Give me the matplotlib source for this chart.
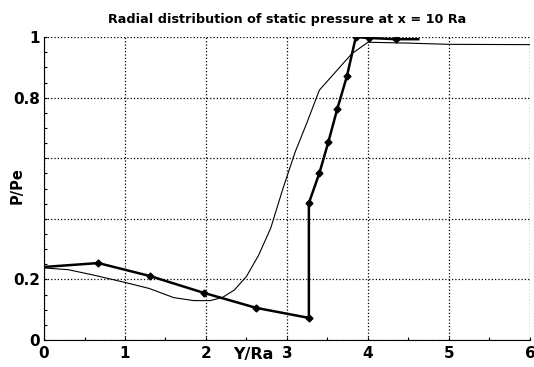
import matplotlib.pyplot as plt
from matplotlib.ticker import FixedLocator, FixedFormatter, MultipleLocator

plt.rcParams['font.family'] = ['DejaVu Sans']

# measured profile (thick line, diamond markers)
y_meas = [0.0, 0.67, 1.31, 1.98, 2.62, 3.27, 3.27, 3.40, 3.51, 3.62, 3.74, 3.85, 4.01, 4.35, 4.62]
p_meas = [0.241, 0.254, 0.211, 0.155, 0.106, 0.073, 0.452, 0.551, 0.653, 0.762, 0.871, 1.0, 0.997, 0.993, 0.993]
marker_idx = list(range(1, 14))

# computed profile (thin line)
y_calc = [0.0, 0.3, 0.6, 1.0, 1.3, 1.6, 1.85, 2.05, 2.2, 2.35, 2.5, 2.65, 2.8, 2.95,
          3.1, 3.25, 3.4, 3.6, 3.8, 4.0, 4.5, 5.0, 6.0]
p_calc = [0.238, 0.232, 0.215, 0.19, 0.17, 0.14, 0.13, 0.13, 0.14, 0.165, 0.21, 0.28,
          0.37, 0.5, 0.62, 0.72, 0.825, 0.885, 0.945, 0.983, 0.98, 0.976, 0.975]

y_ticks = [0, 0.2, 0.4, 0.6, 0.8, 1]
y_tick_labels = ['0', '0.2', '', '', '0.8', '1']
x_ticks = [0, 1, 2, 3, 4, 5, 6]

fig = plt.figure(figsize=(5.34, 3.67), dpi=100)
ax = fig.add_axes([0.0824, 0.0736, 0.9101, 0.8254])

ax.plot(y_calc, p_calc, color='black', lw=0.8)
ax.plot(y_meas, p_meas, color='black', lw=1.8, marker='D', ms=3.5,
        markevery=marker_idx)

ax.set_xlim(0, 6)
ax.set_ylim(0, 1)
ax.xaxis.set_major_locator(FixedLocator(x_ticks))
ax.xaxis.set_minor_locator(MultipleLocator(0.5))
ax.yaxis.set_major_locator(FixedLocator(y_ticks))
ax.yaxis.set_major_formatter(FixedFormatter(y_tick_labels))
ax.yaxis.set_minor_locator(MultipleLocator(0.05))
ax.tick_params(which='both', direction='in', length=2.5, width=0.8)
ax.tick_params(which='major', labelsize=11)
ax.tick_params(axis='x', which='major', pad=4)
ax.tick_params(axis='y', which='major', pad=3)
for lab in ax.get_xticklabels() + ax.get_yticklabels():
    lab.set_fontweight('bold')

ax.grid(True, which='major', linestyle=':', color='black', lw=0.9)
ax.spines['top'].set_visible(False)
ax.spines['right'].set_visible(False)

ax.set_title('Radial distribution of static pressure at x = 10 Ra',
             fontsize=9.2, fontweight='bold', pad=10)
ax.set_xlabel('Y/Ra', fontsize=11.5, fontweight='bold')
ax.xaxis.set_label_coords(0.43, -0.022)
ax.set_ylabel('P/Pe', fontsize=10.5, fontweight='bold')
ax.yaxis.set_label_coords(-0.04, 0.51)

fig.savefig('out.png', dpi=100)
